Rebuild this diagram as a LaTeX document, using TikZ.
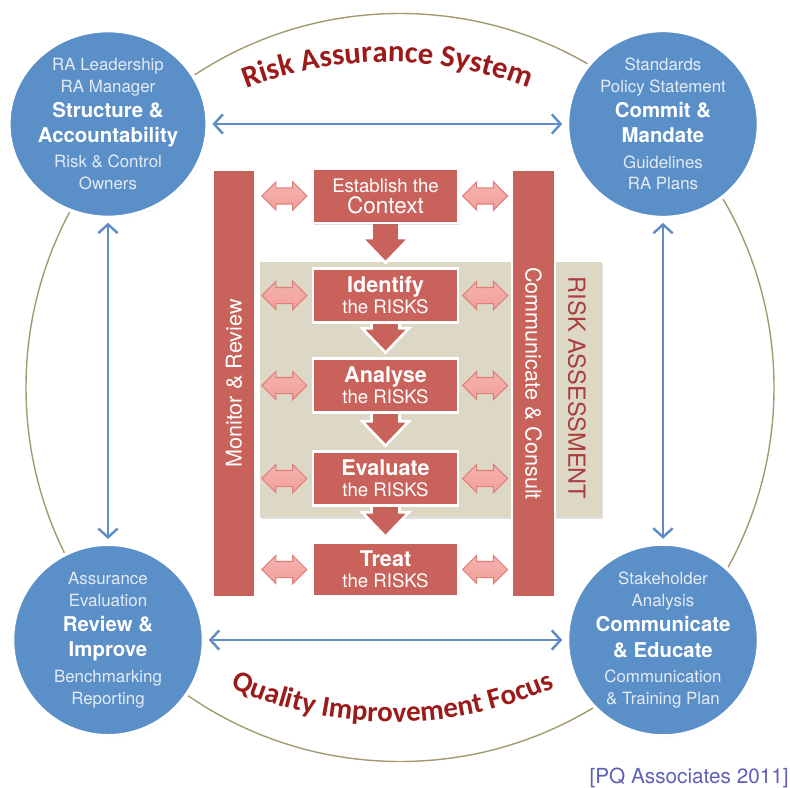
\documentclass[tikz,border=0pt]{standalone}
\usepackage{fontspec}
\setmainfont{TeX Gyre Heros}
\newfontfamily\titlefont{Carlito}
\usetikzlibrary{shapes.geometric,shapes.arrows,arrows.meta,calc,decorations.text,backgrounds,shadows}

\definecolor{raBlue}{HTML}{5B8FC8}
\definecolor{raLink}{HTML}{5F8DC6}
\definecolor{raRed}{HTML}{C9625B}
\definecolor{raTitle}{HTML}{9B1B1B}
\definecolor{raBeige}{HTML}{DDD8C6}
\definecolor{raRing}{HTML}{A39A72}
\definecolor{raPinkA}{HTML}{FDE6E4}
\definecolor{raPinkB}{HTML}{F2A09B}
\definecolor{raPinkLine}{HTML}{DE7F79}
\definecolor{raPale}{HTML}{E3EBF5}
\definecolor{raSource}{HTML}{5E60B9}

\newcommand\circlehead[1]{{\fontsize{11.6}{14}\selectfont\bfseries\color{white}#1}}
\newcommand\stephead[1]{{\fontsize{12.3}{14}\selectfont\bfseries #1}}
\newcommand\titlestyle{\fontsize{17.5}{19}\selectfont\titlefont\bfseries}
\newcommand\footstyle{\fontsize{16.5}{18}\selectfont\titlefont\bfseries}

\tikzset{
  raShadow/.style={drop shadow={shadow xshift=0.6pt, shadow yshift=-0.9pt, opacity=0.25}},
  areacircle/.style={ellipse, fill=raBlue, draw=white, line width=2pt, minimum width=3.82cm,
    minimum height=3.44cm, inner sep=0pt, align=center, text=raPale,
    font=\fontsize{9.6}{12.4}\selectfont, raShadow},
  stepbox/.style={rectangle, fill=raRed, draw=white, line width=1.5pt, minimum width=2.9cm,
    minimum height=1.08cm, inner sep=0pt, align=center, text=white,
    font=\fontsize{10.6}{12}\selectfont, raShadow},
  sidebar/.style={rectangle, fill=raRed, draw=white, line width=1.5pt, minimum width=0.86cm,
    minimum height=8.56cm, inner sep=0pt, raShadow},
  bartext/.style={text=white, font=\fontsize{12.3}{14}\selectfont, inner sep=0pt},
  linkarrow/.style={double arrow, double arrow head extend=0.12cm, double arrow head indent=0cm,
    minimum height=0.9cm, inner xsep=0pt, inner ysep=0.15cm, draw=raPinkLine, line width=0.6pt,
    top color=raPinkB!80, middle color=raPinkA, bottom color=raPinkB},
  bluelink/.style={draw=raLink, line width=1.4pt, shorten <=2pt, shorten >=2pt,
    {Straight Barb[length=5pt,width=11pt]}-{Straight Barb[length=5pt,width=11pt]}},
  flowlink/.style={fill=raRed, draw=white, line width=1.5pt, line join=miter},
}

% block arrow from one step down to the next
\newcommand\flowdown[2]{%
  \path[flowlink] ($(#1.south)+(-0.28,0.1)$) -- ($(#2.north)+(-0.28,0.58)$)
    -- ($(#2.north)+(-0.47,0.58)$) -- ($(#2.north)+(0,0.09)$) -- ($(#2.north)+(0.47,0.58)$)
    -- ($(#2.north)+(0.28,0.58)$) -- ($(#1.south)+(0.28,0.1)$) -- cycle;}

\begin{document}
\begin{tikzpicture}
    \useasboundingbox (0,0) rectangle (15.8,-15.74);

    % titles along the ring
    \path[decorate, decoration={text along path, text align=center, text color=raTitle,
        text={|\titlestyle|Risk Assurance System}}]
        (7.75,-9.04) ++(125:7.8) arc[start angle=125, end angle=55, radius=7.8];
    \path[decorate, decoration={text along path, text align=center, text color=raTitle,
        text={|\footstyle|Quality Improvement Focus}}]
        (7.85,-6.44) ++(235:8.0) arc[start angle=235, end angle=305, radius=8.0];

    % four corners
    \node[areacircle] (structure) at (2.16,-2.48) {RA Leadership\\RA Manager\\[2pt]\circlehead{Structure \&}\\[2pt]\circlehead{Accountability}\\[2pt]Risk \& Control\\Owners};
    \node[areacircle] (commit) at (13.26,-2.48) {Standards\\Policy Statement\\[2pt]\circlehead{Commit \&}\\[2pt]\circlehead{Mandate}\\[2pt]Guidelines\\RA Plans};
    \node[areacircle] (review) at (2.16,-12.8) {Assurance\\Evaluation\\[2pt]\circlehead{Review \&}\\[2pt]\circlehead{Improve}\\[2pt]Benchmarking\\Reporting};
    \node[areacircle] (educate) at (13.26,-12.8) {Stakeholder\\Analysis\\[2pt]\circlehead{Communicate}\\[2pt]\circlehead{\& Educate}\\[2pt]Communication\\\& Training Plan};

    \draw[bluelink] (structure) -- (commit);
    \draw[bluelink] (review) -- (educate);
    \draw[bluelink] (structure) -- (review);
    \draw[bluelink] (commit) -- (educate);

    % process
    \node[sidebar] (monitor) at (4.68,-7.67) {};
    \node[bartext, rotate=90] (monitor-text) at (monitor.center) {Monitor \& Review};
    \node[sidebar] (consult) at (10.67,-7.67) {};
    \node[bartext, rotate=-90] (consult-text) at (consult.center) {Communicate \& Consult};

    \node[stepbox] (context) at (7.71,-3.92) {Establish the\\{\fontsize{12.8}{14}\selectfont Context}};
    \node[stepbox] (identify) at (7.71,-5.91) {\stephead{Identify}\\the RISKS};
    \node[stepbox] (analyse) at (7.71,-7.71) {\stephead{Analyse}\\the RISKS};
    \node[stepbox] (evaluate) at (7.71,-9.57) {\stephead{Evaluate}\\the RISKS};
    \node[stepbox] (treat) at (7.71,-11.39) {\stephead{Treat}\\the RISKS};

    \foreach \s in {context,identify,analyse,evaluate,treat} {
        \node[linkarrow] (\s-left) at ($(monitor.east |- \s.west)!0.5!(\s.west)$) {};
        \node[linkarrow] (\s-right) at ($(\s.east)!0.5!(consult.west |- \s.east)$) {};
    }

    \node[text=raTitle!85, font=\fontsize{13.4}{15}\selectfont, inner sep=0pt, rotate=-90] (assess-text) at (11.54,-7.76) {RISK ASSESSMENT};

    \begin{pgfonlayer}{background}
        \draw[raRing, line width=0.8pt] (8.0,-7.75) circle[radius=7.48];
        \fill[raBeige, raShadow] (5.2,-5.24) rectangle (12.04,-10.34);
        \flowdown{context}{identify}
        \flowdown{identify}{analyse}
        \flowdown{analyse}{evaluate}
        \flowdown{evaluate}{treat}
    \end{pgfonlayer}

    \node[anchor=base east, text=raSource, font=\fontsize{11.8}{14}\selectfont, inner sep=0pt] (source) at (15.78,-15.66) {[PQ Associates 2011]};
\end{tikzpicture}
\end{document}
